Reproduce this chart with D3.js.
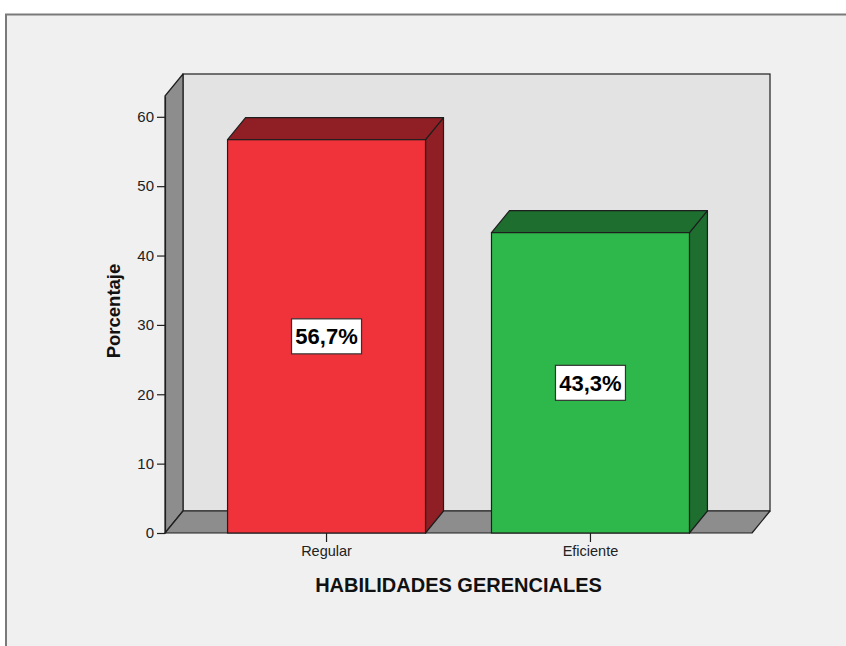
<!DOCTYPE html>
<html>
<head>
<meta charset="utf-8">
<script src="https://cdn.jsdelivr.net/npm/d3@7"></script>
<style>
  html, body { margin: 0; padding: 0; background: #ffffff; }
  svg { display: block; font-family: "Liberation Sans", Arial, sans-serif; }
</style>
</head>
<body>
<svg id="chart" width="846" height="646"></svg>
<script>
// Data
const categories = ["Regular", "Eficiente"];
const percentages = [56.7, 43.3];
const valueLabels = ["56,7%", "43,3%"];
const yTicks = [0, 10, 20, 30, 40, 50, 60];
const yMax = 63;
const xTitle = "HABILIDADES GERENCIALES";
const yTitle = "Porcentaje";

// Face colours: [front, top/side]
const barColors = [["#F0323A", "#8F1F24"], ["#2EB84B", "#1D6E2F"]];

(function () {
  const svg = d3.select("#chart");
  const W = 846, H = 646;

  // 3D depth offset of the box
  const dx = 18, dy = 22;

  // Plot frame (front plane)
  const pLeft = 165, pRight = 752, pTop = 96, pBottom = 533;

  const x = d3.scaleBand()
    .domain(categories)
    .range([pLeft, pRight])
    .paddingInner(0.25)
    .paddingOuter(0.237);

  const y = d3.scaleLinear()
    .domain([0, yMax])
    .range([pBottom, pTop]);

  // Background panel with frame
  svg.append("rect").attr("x", 0).attr("y", 0).attr("width", W).attr("height", H).attr("fill", "#ffffff");
  svg.append("rect")
    .attr("x", 6).attr("y", 14.5).attr("width", W + 20).attr("height", H + 20)
    .attr("fill", "#F0F0F0").attr("stroke", "#7a7a7a").attr("stroke-width", 2);

  const stroke = "#1e1e1e";

  // Back wall
  svg.append("rect")
    .attr("x", pLeft + dx).attr("y", pTop - dy)
    .attr("width", pRight - pLeft).attr("height", pBottom - pTop)
    .attr("fill", "#E3E3E3").attr("stroke", stroke).attr("stroke-width", 1.2);

  // Left wall
  svg.append("polygon")
    .attr("points", [[pLeft, pTop], [pLeft + dx, pTop - dy], [pLeft + dx, pBottom - dy], [pLeft, pBottom]].join(" "))
    .attr("fill", "#8D8D8D").attr("stroke", stroke).attr("stroke-width", 1.2).attr("stroke-linejoin", "round");

  // Floor
  svg.append("polygon")
    .attr("points", [[pLeft, pBottom], [pLeft + dx, pBottom - dy], [pRight + dx, pBottom - dy], [pRight, pBottom]].join(" "))
    .attr("fill", "#8D8D8D").attr("stroke", stroke).attr("stroke-width", 1.2).attr("stroke-linejoin", "round");

  // Bars (front, top and side faces)
  const bars = svg.append("g").selectAll("g")
    .data(categories.map((c, i) => ({ c, v: percentages[i], i })))
    .join("g");

  bars.each(function (d) {
    const g = d3.select(this);
    const x0 = x(d.c), x1 = x(d.c) + x.bandwidth();
    const yt = y(d.v), yb = y(0);
    const [front, dark] = barColors[d.i];
    g.append("polygon")
      .attr("points", [[x1, yt], [x1 + dx, yt - dy], [x1 + dx, yb - dy], [x1, yb]].join(" "))
      .attr("fill", dark).attr("stroke", stroke).attr("stroke-width", 1.2).attr("stroke-linejoin", "round");
    g.append("polygon")
      .attr("points", [[x0, yt], [x0 + dx, yt - dy], [x1 + dx, yt - dy], [x1, yt]].join(" "))
      .attr("fill", dark).attr("stroke", stroke).attr("stroke-width", 1.2).attr("stroke-linejoin", "round");
    g.append("rect")
      .attr("x", x0).attr("y", yt).attr("width", x1 - x0).attr("height", yb - yt)
      .attr("fill", front).attr("stroke", stroke).attr("stroke-width", 1.2);
  });

  // Value labels in boxes
  bars.each(function (d) {
    const g = d3.select(this);
    const cx = x(d.c) + x.bandwidth() / 2;
    const cy = y(d.v / 2);
    const bw = 70, bh = 35;
    g.append("rect")
      .attr("x", cx - bw / 2).attr("y", cy - bh / 2).attr("width", bw).attr("height", bh)
      .attr("fill", "#ffffff").attr("stroke", "#333333").attr("stroke-width", 1.2);
    g.append("text")
      .attr("x", cx).attr("y", cy + 8)
      .attr("text-anchor", "middle")
      .attr("font-size", 22).attr("font-weight", "bold").attr("fill", "#000")
      .text(valueLabels[d.i]);
  });

  // Y axis
  const yAxis = svg.append("g")
    .attr("transform", `translate(${pLeft},0)`)
    .call(d3.axisLeft(y).tickValues(yTicks).tickSize(8).tickSizeOuter(0).tickPadding(3));
  yAxis.select(".domain").attr("stroke", stroke).attr("stroke-width", 1.2);
  yAxis.selectAll(".tick line").attr("stroke", stroke).attr("stroke-width", 1.2);
  yAxis.selectAll(".tick text")
    .attr("font-size", 15).attr("fill", "#222").attr("font-family", "Liberation Sans, Arial, sans-serif");

  // X axis
  const xAxis = svg.append("g")
    .attr("transform", `translate(0,${pBottom})`)
    .call(d3.axisBottom(x).tickSize(9).tickSizeOuter(0).tickPadding(4));
  xAxis.select(".domain").remove();
  xAxis.selectAll(".tick line").attr("stroke", stroke).attr("stroke-width", 1.2);
  xAxis.selectAll(".tick text")
    .attr("font-size", 14.5).attr("fill", "#222").attr("font-family", "Liberation Sans, Arial, sans-serif");

  // Axis titles
  svg.append("text")
    .attr("x", 458.5).attr("y", 592)
    .attr("text-anchor", "middle")
    .attr("font-size", 20).attr("font-weight", "bold").attr("fill", "#111")
    .text(xTitle);

  svg.append("text")
    .attr("transform", "translate(120,311) rotate(-90)")
    .attr("text-anchor", "middle")
    .attr("font-size", 18.5).attr("font-weight", "bold").attr("fill", "#111")
    .text(yTitle);
})();
</script>
</body>
</html>
